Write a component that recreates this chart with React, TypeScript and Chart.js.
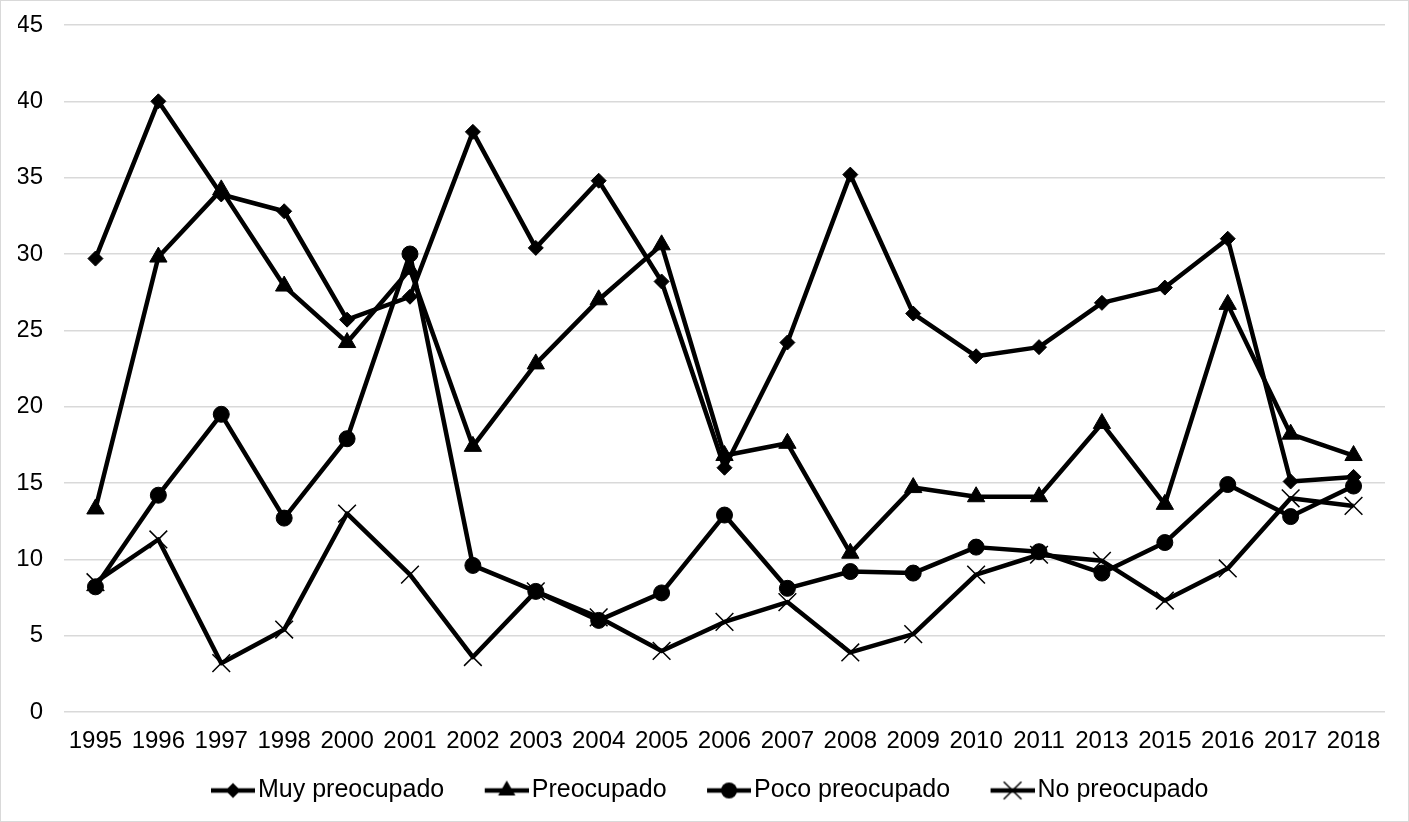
import React, { useEffect, useRef } from "react";
import { Chart, registerables } from "chart.js";

Chart.register(...registerables);

const years = ["1995","1996","1997","1998","2000","2001","2002","2003","2004","2005","2006","2007","2008","2009","2010","2011","2013","2015","2016","2017","2018"];

const muyPreocupado = [29.7,40.0,33.9,32.8,25.7,27.2,38.0,30.4,34.8,28.2,16.0,24.2,35.2,26.1,23.3,23.9,26.8,27.8,31.0,15.1,15.4];
const preocupado = [13.3,29.8,34.2,27.9,24.2,29.0,17.4,22.8,27.0,30.6,16.8,17.6,10.4,14.7,14.1,14.1,18.9,13.6,26.7,18.2,16.8];
const pocoPreocupado = [8.2,14.2,19.5,12.7,17.9,30.0,9.6,7.9,6.0,7.8,12.9,8.1,9.2,9.1,10.8,10.5,9.1,11.1,14.9,12.8,14.8];
const noPreocupado = [8.5,11.3,3.2,5.4,13.0,9.0,3.6,7.9,6.2,4.0,5.9,7.2,3.9,5.1,9.0,10.3,9.9,7.3,9.4,14.0,13.5];

const seriesLabels = ["Muy preocupado", "Preocupado", "Poco preocupado", "No preocupado"];
const yTicks = [0, 5, 10, 15, 20, 25, 30, 35, 40, 45];

const FONT = "'Liberation Sans', Arial, sans-serif";

type Marker = "rectRot" | "triangle" | "circle" | "crossRot";
const markers: Marker[] = ["rectRot", "triangle", "circle", "crossRot"];
const radii = [7.5, 10, 8, 12.5];

const LEGEND_BOX = 51;
const LEGEND_IMG_W = 70;

function drawMarker(ctx: CanvasRenderingContext2D, m: Marker, x: number, y: number, r: number) {
  ctx.beginPath();
  if (m === "rectRot") {
    ctx.moveTo(x, y - r);
    ctx.lineTo(x + r, y);
    ctx.lineTo(x, y + r);
    ctx.lineTo(x - r, y);
    ctx.closePath();
    ctx.fill();
  } else if (m === "triangle") {
    const a = (2 * Math.PI) / 3;
    ctx.moveTo(x, y - r);
    ctx.lineTo(x + Math.sin(a) * r, y - Math.cos(a) * r);
    ctx.lineTo(x + Math.sin(2 * a) * r, y - Math.cos(2 * a) * r);
    ctx.closePath();
    ctx.fill();
  } else if (m === "circle") {
    ctx.arc(x, y, r, 0, Math.PI * 2);
    ctx.fill();
  } else {
    const d = r * Math.SQRT1_2;
    ctx.lineWidth = 1.5;
    ctx.moveTo(x - d, y - d);
    ctx.lineTo(x + d, y + d);
    ctx.moveTo(x + d, y - d);
    ctx.lineTo(x - d, y + d);
    ctx.stroke();
  }
}

function makeLegendImg(m: Marker, r: number): HTMLCanvasElement {
  const c = document.createElement("canvas");
  c.width = LEGEND_IMG_W;
  c.height = 26;
  const ctx = c.getContext("2d")!;
  ctx.strokeStyle = "#000";
  ctx.fillStyle = "#000";
  ctx.lineWidth = 4.5;
  ctx.beginPath();
  ctx.moveTo(c.width - 44, 13);
  ctx.lineTo(c.width, 13);
  ctx.stroke();
  drawMarker(ctx, m, c.width - 22, 13, r);
  return c;
}

export default function App() {
  const ref = useRef<HTMLCanvasElement>(null);

  useEffect(() => {
    if (!ref.current) return;
    const seriesData = [muyPreocupado, preocupado, pocoPreocupado, noPreocupado];
    const legendImgs = markers.map((m, i) => makeLegendImg(m, radii[i]));
    const chart = new Chart(ref.current, {
      type: "line",
      data: {
        labels: years,
        datasets: seriesData.map((d, i) => ({
          label: seriesLabels[i],
          data: d,
          borderColor: "#000",
          backgroundColor: "#000",
          borderWidth: 4.5,
          borderJoinStyle: "round" as const,
          pointStyle: markers[i],
          pointRadius: radii[i],
          pointHoverRadius: radii[i],
          pointBorderWidth: i === 3 ? 1.5 : 1,
          pointBackgroundColor: "#000",
          pointBorderColor: "#000",
          tension: 0,
        })),
      },
      options: {
        responsive: false,
        animation: false,
        devicePixelRatio: 1,
        layout: { padding: { left: 17, right: 23, top: 24, bottom: 8 } },
        plugins: {
          tooltip: { enabled: false },
          legend: {
            position: "bottom",
            labels: {
              usePointStyle: true,
              pointStyleWidth: LEGEND_BOX,
              padding: 24,
              color: "#000",
              font: { family: FONT, size: 25 },
              generateLabels: () =>
                seriesLabels.map((t, i) => ({
                  text: t,
                  pointStyle: legendImgs[i] as any,
                  fillStyle: "#000",
                  strokeStyle: "#000",
                  lineWidth: 0,
                  hidden: false,
                  datasetIndex: i,
                  fontColor: "#000",
                })),
            },
          },
        },
        scales: {
          x: {
            offset: true,
            grid: { display: false, drawTicks: false },
            border: { display: false },
            ticks: {
              color: "#000",
              font: { family: FONT, size: 24 },
              padding: 15,
              maxRotation: 0,
              autoSkip: false,
            },
            afterFit: (s: any) => {
              s.height = 42;
            },
          },
          y: {
            min: 0,
            max: 45,
            afterBuildTicks: (s: any) => {
              s.ticks = yTicks.map((v) => ({ value: v }));
            },
            grid: {
              color: "#d9d9d9",
              lineWidth: 1.5,
              drawTicks: true,
              tickLength: 21,
              tickColor: "rgba(0,0,0,0)",
            },
            border: { display: false },
            ticks: {
              color: "#000",
              font: { family: FONT, size: 24 },
              padding: 0,
            },
            afterFit: (s: any) => {
              s.width = 46;
            },
          },
        },
      },
    });
    return () => chart.destroy();
  }, []);

  return (
    <div
      style={{
        position: "absolute",
        left: 0,
        top: 0,
        width: 1409,
        height: 822,
        border: "1px solid #d9d9d9",
        boxSizing: "border-box",
        background: "#fff",
      }}
    >
      <canvas ref={ref} width={1407} height={820} style={{ display: "block", width: 1407, height: 820 }} />
    </div>
  );
}
